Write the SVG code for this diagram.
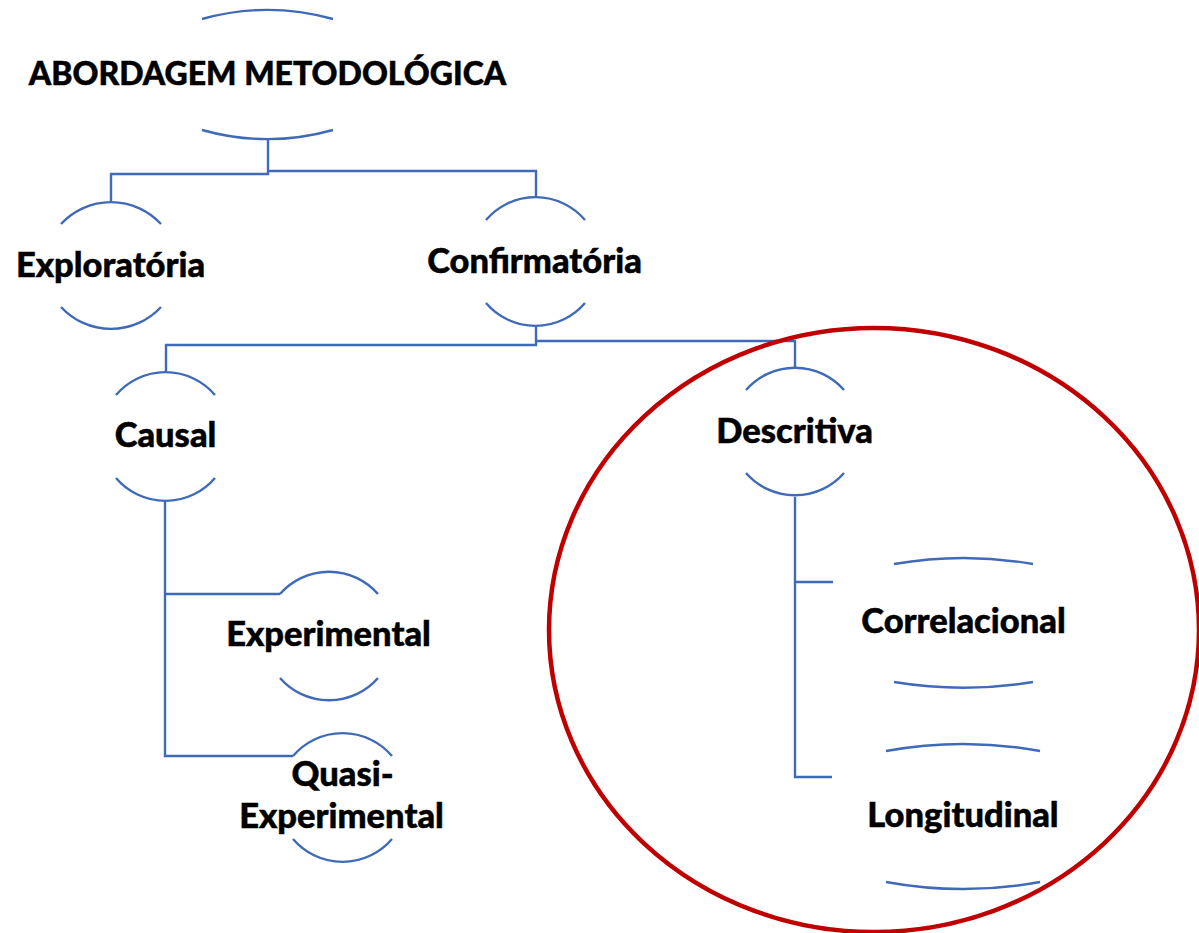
<svg xmlns="http://www.w3.org/2000/svg" width="1199" height="933" viewBox="0 0 1199 933">
<style>
.arc{fill:none;stroke:#3F6AB8;stroke-width:2.4}
.con{fill:none;stroke:#3F6AB8;stroke-width:2.4}
.lbl{font-family:Lato,"Liberation Sans",sans-serif;font-weight:900;font-size:34.5px;fill:#000;stroke:#000;stroke-width:0.5;text-anchor:middle}
.ttl{font-size:32px}
</style>
<rect width="1199" height="933" fill="#fff"/>
<g id="connectors">
<path class="con" d="M268,139 V174 H111 V202"/>
<path class="con" d="M268,171 H536 V197"/>
<path class="con" d="M536,325 V345 H166 V372"/>
<path class="con" d="M536,341 H795 V368"/>
<path class="con" d="M165,500 V756 H293"/>
<path class="con" d="M165,594 H280"/>
<path class="con" d="M795,497 V777 H832"/>
<path class="con" d="M795,582 H833"/>
</g>
<g id="node-abordagem">
<path class="arc" d="M202,19 A243,243 0 0 1 333,19"/>
<path class="arc" d="M202,130 A243,243 0 0 0 333,130"/>
<text class="lbl ttl" x="267.5" y="85">ABORDAGEM METODOLÓGICA</text>
</g>
<g id="node-exploratoria">
<path class="arc" d="M61,224 A68,68 0 0 1 161,224"/>
<path class="arc" d="M61,307 A68,68 0 0 0 161,307"/>
<text class="lbl" x="110.5" y="277">Exploratória</text>
</g>
<g id="node-confirmatoria">
<path class="arc" d="M486,220 A65,65 0 0 1 585,220"/>
<path class="arc" d="M486,303 A65,65 0 0 0 585,303"/>
<text class="lbl" x="534.5" y="273">Confirmatória</text>
</g>
<g id="node-causal">
<path class="arc" d="M116,395 A65,65 0 0 1 215,395"/>
<path class="arc" d="M116,478 A65,65 0 0 0 215,478"/>
<text class="lbl" x="165.5" y="447">Causal</text>
</g>
<g id="node-descritiva">
<path class="arc" d="M746,390 A65,65 0 0 1 844,390"/>
<path class="arc" d="M746,473 A65,65 0 0 0 844,473"/>
<text class="lbl" x="794.5" y="443">Descritiva</text>
</g>
<g id="node-experimental">
<path class="arc" d="M280,594 A65,65 0 0 1 378,594"/>
<path class="arc" d="M280,678 A65,65 0 0 0 378,678"/>
<text class="lbl" x="328.5" y="646">Experimental</text>
</g>
<g id="node-quasi">
<path class="arc" d="M293,756 A65,65 0 0 1 392,756"/>
<path class="arc" d="M293,839 A65,65 0 0 0 392,839"/>
<text class="lbl" x="342.5" y="786">Quasi-</text>
<text class="lbl" x="341.5" y="828">Experimental</text>
</g>
<g id="node-correlacional">
<path class="arc" d="M894,564 A405,405 0 0 1 1033,564"/>
<path class="arc" d="M894,682 A430,430 0 0 0 1033,682"/>
<text class="lbl" x="963.5" y="633">Correlacional</text>
</g>
<g id="node-longitudinal">
<path class="arc" d="M886,751 A427,427 0 0 1 1040,751"/>
<path class="arc" d="M886,882 A427,427 0 0 0 1040,882"/>
<text class="lbl" x="963" y="827">Longitudinal</text>
</g>
<g id="highlight">
<ellipse cx="874" cy="630" rx="325" ry="302" fill="none" stroke="#C00000" stroke-width="4.5"/>
</g>
</svg>
